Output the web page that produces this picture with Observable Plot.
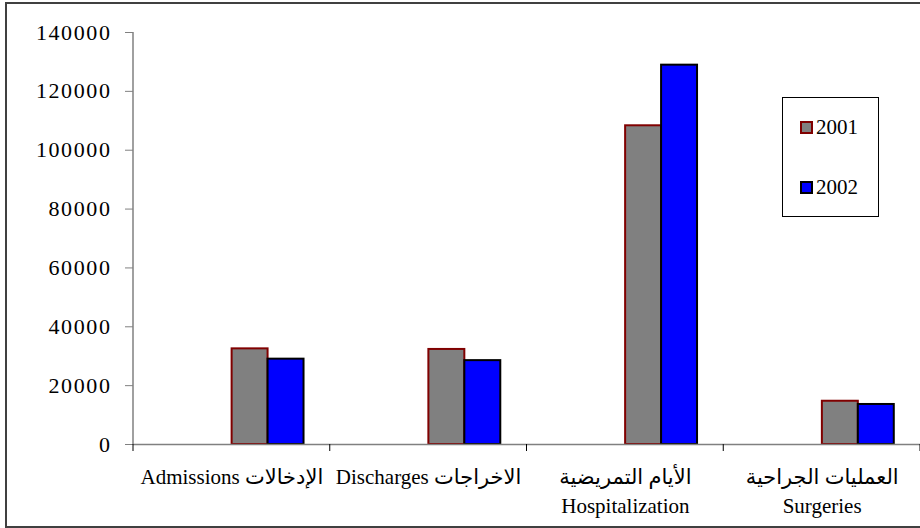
<!DOCTYPE html>
<html><head><meta charset="utf-8">
<script src="https://cdn.jsdelivr.net/npm/d3@7"></script>
<script src="https://cdn.jsdelivr.net/npm/@observablehq/plot@0.6"></script>
<style>
html,body{margin:0;padding:0;background:#fff;overflow:hidden;}
#wrap{position:relative;width:920px;height:528px;overflow:hidden;}
#wrap svg{position:absolute;left:0;top:0;}
#border{position:absolute;left:5px;top:2px;width:960px;height:526px;border:2px solid #404040;box-sizing:border-box;pointer-events:none;}
#legend{position:absolute;left:782px;top:97px;width:97px;height:120px;border:1px solid #000;box-sizing:border-box;background:#fff;font-family:"Liberation Serif","Times New Roman",serif;font-size:21px;color:#000;}
#legend .item{position:absolute;left:17px;height:20px;line-height:20px;white-space:nowrap;}
#legend .sw{display:inline-block;width:9px;height:9px;border:2px solid;vertical-align:middle;margin-right:3px;position:relative;top:-2px;}
</style></head>
<body><div id="wrap"><div id="border"></div></div>
<script>
// ---- data ----
const categories = [
  "Admissions الإدخالات",
  "Discharges الاخراجات",
  "الأيام التمريضية\nHospitalization",
  "العمليات الجراحية\nSurgeries"
];
const series = ["2001", "2002"];
const values2001 = [32500, 32300, 108300, 14700];
const values2002 = [29000, 28500, 128900, 13600];
const yTicks = [0, 20000, 40000, 60000, 80000, 100000, 120000, 140000];

// ---- styles ----
const seriesStyle = {
  "2001": {fill: "#808080", stroke: "#800000"},
  "2002": {fill: "#0000ff", stroke: "#000000"}
};
const axisGray = "#808080";
const W = 920, H = 528, mL = 133, mR = 0, mT = 32, mB = 84;

const rows = [];
categories.forEach((c, i) => {
  rows.push({cat: c, series: "2001", value: values2001[i]});
  rows.push({cat: c, series: "2002", value: values2002[i]});
});

const chart = Plot.plot({
  width: W, height: H,
  marginLeft: mL, marginRight: mR, marginTop: mT, marginBottom: mB,
  style: {fontFamily: '"Liberation Serif","Times New Roman","DejaVu Sans",serif', fontSize: "20px", background: "transparent", color: "#000"},
  fx: {domain: categories, padding: 0, label: null, round: false},
  x: {domain: series, paddingInner: 0, paddingOuter: 1.736, align: 0.79, axis: null, round: false},
  y: {domain: [0, 140000], label: null},
  marks: [
    ...series.map(s => Plot.barY(rows.filter(d => d.series === s), {
      fx: "cat", x: "series", y: "value",
      fill: seriesStyle[s].fill, stroke: seriesStyle[s].stroke, strokeWidth: 2
    })),
    Plot.ruleY([0], {stroke: axisGray, strokeWidth: 1.5}),
    Plot.axisY({ticks: yTicks, tickFormat: d3.format("d"), tickSize: 8, tickPadding: 14, stroke: axisGray, strokeOpacity: 1, fill: "#000"}),
    Plot.axisFx({anchor: "bottom", tickSize: 0, tickPadding: 19, lineAnchor: "top", lineHeight: 1.38, fontSize: 21, fill: "#000", label: null})
  ]
});

const wrap = document.getElementById("wrap");
wrap.insertBefore(chart, wrap.firstChild);

const svg = d3.select(chart);
// enlarge y tick labels (reference glyphs are wide)
svg.selectAll('g[aria-label="y-axis tick label"] text')
  .attr("font-size", 22).style("font-size", "22px").style("letter-spacing", "1.6px");

// axis line and category boundary ticks, from the library's scales
const fx = chart.scale("fx"), y = chart.scale("y");
const y0 = y.apply(0), yTop = y.apply(140000);
svg.append("line").attr("x1", mL).attr("x2", mL).attr("y1", yTop).attr("y2", y0)
  .attr("stroke", axisGray).attr("stroke-width", 1.5);
const edges = categories.map(c => fx.apply(c)).concat([fx.apply(categories[categories.length-1]) + fx.bandwidth]);
edges.forEach(e => {
  svg.append("line").attr("x1", e).attr("x2", e).attr("y1", y0).attr("y2", y0 + 7)
    .attr("stroke", "#000").attr("stroke-width", 1);
});

// legend
const legend = document.createElement("div");
legend.id = "legend";
series.forEach((s, i) => {
  const it = document.createElement("div");
  it.className = "item";
  it.style.top = (19 + i * 60) + "px";
  const sw = document.createElement("span");
  sw.className = "sw";
  sw.style.background = seriesStyle[s].fill;
  sw.style.borderColor = seriesStyle[s].stroke;
  it.appendChild(sw);
  it.appendChild(document.createTextNode(s));
  legend.appendChild(it);
});
wrap.appendChild(legend);
</script>
</body></html>
